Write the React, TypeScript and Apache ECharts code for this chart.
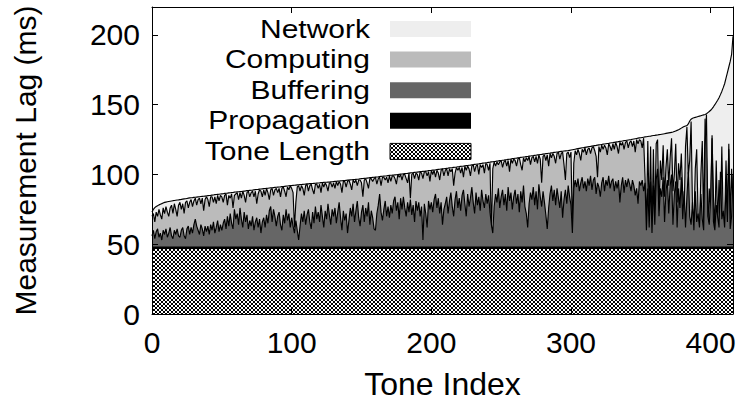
import React, { useEffect, useRef } from "react";
import * as echarts from "echarts";

// ---- data ----
const seriesNames = ["Network", "Computing", "Buffering", "Propagation", "Tone Length"];
const seriesColors = ["#eeeeee", "#bbbbbb", "#666666", "#000000", "hatch"];
const xTicks = [0, 100, 200, 300, 400];
const yTicks = [0, 50, 100, 150, 200];
const toneLength = 47; // ms
const propagationTop = 48; // tone length + propagation (ms)

// top of the stack (total lag, sorted)
const totalLag = [
  73.0, 75.0, 76.2, 77.0, 77.6, 78.2, 78.7, 79.1, 79.6, 80.0,
  80.2, 80.4, 80.6, 80.8, 81.0, 81.2, 81.3, 81.5, 81.7, 81.8,
  82.0, 82.1, 82.3, 82.5, 82.6, 82.8, 83.0, 83.2, 83.3, 83.4,
  83.6, 83.7, 83.8, 83.9, 84.0, 84.2, 84.3, 84.4, 84.5, 84.6,
  84.8, 84.9, 85.0, 85.2, 85.3, 85.5, 85.6, 85.7, 85.8, 86.0,
  86.1, 86.2, 86.4, 86.5, 86.6, 86.8, 86.9, 87.0, 87.1, 87.3,
  87.4, 87.5, 87.6, 87.7, 87.8, 88.0, 88.1, 88.2, 88.4, 88.5,
  88.6, 88.7, 88.8, 89.0, 89.1, 89.2, 89.3, 89.5, 89.6, 89.7,
  89.8, 89.9, 90.0, 90.1, 90.3, 90.4, 90.5, 90.6, 90.7, 90.8,
  90.9, 91.0, 91.1, 91.3, 91.4, 91.5, 91.6, 91.7, 91.9, 92.0,
  92.1, 92.2, 92.3, 92.4, 92.5, 92.6, 92.7, 92.8, 92.9, 93.0,
  93.1, 93.2, 93.3, 93.4, 93.5, 93.5, 93.6, 93.7, 93.8, 93.9,
  94.0, 94.1, 94.2, 94.3, 94.4, 94.4, 94.5, 94.6, 94.7, 94.8,
  94.9, 95.0, 95.1, 95.2, 95.3, 95.4, 95.5, 95.6, 95.7, 95.8,
  95.9, 96.0, 96.1, 96.2, 96.3, 96.4, 96.5, 96.6, 96.7, 96.9,
  97.0, 97.1, 97.2, 97.3, 97.4, 97.5, 97.7, 97.8, 97.9, 98.0,
  98.1, 98.2, 98.3, 98.5, 98.6, 98.7, 98.8, 98.9, 99.0, 99.2,
  99.3, 99.4, 99.5, 99.6, 99.7, 99.8, 100.0, 100.1, 100.2, 100.3,
  100.5, 100.6, 100.7, 100.8, 101.0, 101.1, 101.2, 101.3, 101.5, 101.6,
  101.7, 101.8, 102.0, 102.1, 102.2, 102.3, 102.4, 102.5, 102.7, 102.8,
  102.9, 103.1, 103.2, 103.3, 103.5, 103.6, 103.7, 103.9, 104.0, 104.1,
  104.3, 104.4, 104.5, 104.7, 104.8, 104.9, 105.1, 105.2, 105.3, 105.5,
  105.6, 105.8, 105.9, 106.0, 106.2, 106.3, 106.4, 106.6, 106.7, 106.9,
  107.0, 107.2, 107.3, 107.5, 107.6, 107.8, 107.9, 108.1, 108.2, 108.4,
  108.5, 108.7, 108.8, 109.0, 109.1, 109.3, 109.4, 109.6, 109.7, 109.9,
  110.0, 110.2, 110.3, 110.5, 110.6, 110.8, 110.9, 111.1, 111.3, 111.4,
  111.6, 111.7, 111.9, 112.0, 112.2, 112.3, 112.5, 112.6, 112.8, 112.9,
  113.1, 113.2, 113.4, 113.5, 113.7, 113.8, 114.0, 114.1, 114.3, 114.4,
  114.6, 114.7, 114.9, 115.0, 115.2, 115.3, 115.5, 115.6, 115.8, 115.9,
  116.1, 116.2, 116.4, 116.5, 116.6, 116.8, 116.9, 117.0, 117.1, 117.3,
  117.5, 117.7, 117.9, 118.1, 118.3, 118.5, 118.7, 118.9, 119.1, 119.2,
  119.4, 119.6, 119.8, 120.0, 120.1, 120.3, 120.5, 120.7, 120.8, 121.0,
  121.2, 121.3, 121.5, 121.7, 121.8, 122.0, 122.2, 122.3, 122.5, 122.7,
  122.8, 123.0, 123.2, 123.3, 123.5, 123.7, 123.8, 124.0, 124.2, 124.3,
  124.5, 124.7, 124.9, 125.0, 125.2, 125.4, 125.6, 125.8, 126.0, 126.2,
  126.3, 126.5, 126.7, 126.9, 127.0, 127.2, 127.4, 127.5, 127.7, 127.9,
  128.0, 128.2, 128.3, 128.5, 128.6, 128.8, 129.0, 129.2, 129.4, 129.6,
  129.8, 130.0, 130.2, 130.4, 130.8, 131.2, 131.6, 132.0, 132.6, 133.2,
  133.8, 134.3, 134.7, 135.0, 136.2, 138.3, 139.6, 140.3, 140.6, 140.9,
  141.2, 141.5, 141.8, 142.1, 142.4, 142.7, 143.0, 143.5, 144.3, 145.1,
  146.0, 147.2, 148.5, 150.0, 151.6, 153.2, 155.0, 157.2, 159.5, 162.2,
  165.0, 169.0, 173.0, 177.0, 181.0, 186.0, 199.0,
];

// top of the Computing layer
const computingTop = [
  70, 72, 66, 73, 70, 75, 71, 68, 76, 72,
  77, 73, 70, 76, 78, 72, 79, 75, 70, 78,
  80, 75, 79, 72, 80, 81, 76, 80, 82, 77,
  81, 83, 78, 82, 83, 79, 83, 74, 82, 84,
  82, 77, 84, 84, 80, 84, 79, 85, 81, 85,
  84, 80, 85, 86, 78, 85, 83, 86, 76, 85,
  86, 87, 82, 87, 83, 88, 85, 80, 87, 88,
  84, 87, 88, 84, 88, 79, 86, 89, 88, 84,
  89, 85, 90, 87, 82, 89, 90, 85, 89, 90,
  87, 90, 84, 90, 91, 88, 84, 91, 89, 92,
  90, 87, 62, 80, 91, 92, 88, 92, 90, 85,
  92, 93, 88, 92, 93, 89, 86, 93, 93, 90,
  93, 87, 94, 91, 94, 92, 88, 94, 94, 91,
  94, 90, 95, 92, 95, 93, 87, 95, 95, 91,
  95, 96, 93, 89, 96, 94, 96, 92, 96, 96,
  94, 84, 96, 97, 94, 90, 97, 97, 95, 97,
  98, 93, 97, 98, 92, 98, 98, 96, 98, 94,
  99, 95, 99, 99, 97, 93, 100, 98, 100, 96,
  100, 100, 97, 94, 101, 83, 100, 101, 97, 101,
  100, 96, 102, 101, 97, 102, 102, 99, 102, 95,
  103, 100, 103, 98, 103, 101, 96, 103, 104, 99,
  103, 104, 99, 104, 102, 104, 92, 101, 105, 103,
  105, 101, 105, 98, 106, 103, 106, 104, 99, 106,
  107, 102, 106, 107, 100, 107, 105, 107, 101, 108,
  107, 103, 108, 58, 104, 109, 106, 109, 107, 109,
  110, 105, 109, 110, 106, 110, 102, 111, 108, 111,
  110, 106, 111, 112, 107, 103, 112, 109, 112, 110,
  113, 107, 112, 113, 109, 113, 108, 114, 111, 94,
  113, 114, 110, 114, 106, 115, 112, 115, 113, 108,
  115, 116, 111, 115, 116, 107, 96, 115, 116, 112,
  116, 58, 108, 117, 114, 118, 115, 110, 118, 116,
  119, 114, 118, 119, 115, 119, 120, 117, 113, 98,
  120, 116, 121, 118, 121, 119, 114, 122, 120, 117,
  122, 118, 123, 120, 115, 123, 121, 123, 118, 123,
  124, 119, 123, 124, 120, 124, 116, 125, 122, 125,
  124, 119, 126, 98, 62, 124, 70, 120, 58, 118,
  66, 122, 125, 74, 110, 96, 121, 84, 105, 118,
  92, 112, 126, 88, 100, 122, 80, 108, 96, 115,
  86, 72, 120, 134, 100, 110, 138, 76, 66, 104,
  118, 70, 60, 100, 124, 66, 140, 112, 62, 90,
  72, 128, 84, 62, 110, 64, 96, 70, 120, 66,
  64, 110, 70, 122, 68, 104, 76,
];

// top of the Buffering layer
const bufferingTop = [
  56, 60, 54, 59, 61, 55, 58, 53, 60, 57,
  61, 55, 58, 62, 56, 54, 60, 57, 61, 56,
  55, 60, 62, 56, 54, 61, 63, 57, 62, 58,
  64, 68, 63, 60, 57, 64, 61, 56, 63, 59,
  63, 57, 64, 60, 66, 58, 62, 67, 59, 64,
  60, 65, 68, 61, 70, 63, 72, 65, 61, 75,
  68, 72, 64, 76, 68, 62, 73, 66, 71, 61,
  67, 63, 70, 60, 66, 69, 62, 68, 58, 66,
  69, 62, 71, 65, 74, 77, 66, 75, 70, 63,
  70, 73, 64, 60, 71, 65, 75, 67, 72, 62,
  69, 63, 58, 67, 60, 53, 63, 72, 66, 74,
  64, 71, 75, 66, 61, 73, 65, 77, 68, 73,
  66, 78, 70, 62, 74, 68, 79, 71, 64, 75,
  70, 76, 65, 73, 80, 69, 60, 74, 67, 72,
  58, 67, 76, 70, 79, 66, 74, 81, 69, 63,
  73, 78, 66, 76, 70, 80, 64, 74, 69, 61,
  60, 72, 78, 86, 73, 67, 75, 81, 70, 77,
  69, 78, 72, 81, 84, 74, 80, 68, 83, 75,
  84, 76, 70, 80, 73, 82, 71, 78, 66, 81,
  74, 80, 70, 77, 53, 79, 72, 62, 81, 75,
  80, 73, 82, 86, 76, 83, 72, 80, 64, 75,
  79, 84, 72, 81, 87, 77, 70, 82, 88, 76,
  83, 74, 85, 89, 79, 70, 86, 77, 83, 91,
  80, 72, 87, 78, 84, 74, 89, 81, 76, 86,
  79, 85, 73, 64, 58, 77, 86, 80, 90, 76,
  84, 89, 78, 86, 74, 91, 81, 87, 75, 84,
  89, 79, 86, 73, 88, 80, 92, 77, 72, 62,
  79, 87, 82, 91, 78, 88, 75, 93, 84, 77,
  88, 80, 71, 61, 76, 86, 92, 81, 89, 78,
  90, 83, 76, 88, 69, 82, 89, 79, 92, 84,
  78, 58, 90, 96, 91, 97, 88, 94, 98, 90,
  95, 88, 97, 92, 99, 89, 96, 98, 86, 94,
  91, 84, 94, 98, 88, 96, 92, 99, 90, 95,
  97, 88, 95, 90, 96, 80, 92, 98, 87, 96,
  91, 97, 93, 88, 96, 92, 85, 90, 79, 95,
  92, 96, 88, 94, 60, 90, 62, 95, 58, 92,
  64, 96, 104, 70, 90, 84, 98, 66, 88, 96,
  72, 92, 100, 64, 86, 95, 62, 90, 76, 98,
  68, 88, 62, 84, 102, 70, 64, 80, 60, 88,
  66, 72, 62, 86, 68, 60, 120, 143, 70, 64,
  84, 126, 66, 60, 78, 70, 62, 102, 68, 74,
  62, 92, 66, 118, 61, 70, 100,
];

const FONT = '"Liberation Sans", Arial, Helvetica, sans-serif';

const hatchSvg =
  "<svg xmlns='http://www.w3.org/2000/svg' width='4' height='4' shape-rendering='crispEdges'>" +
  "<rect width='4' height='4' fill='#ffffff'/>" +
  "<rect x='0' y='0' width='1' height='1' fill='#000'/>" +
  "<rect x='3' y='0' width='1' height='1' fill='#000'/>" +
  "<rect x='1' y='1' width='2' height='2' fill='#000'/>" +
  "<rect x='0' y='3' width='1' height='1' fill='#000'/>" +
  "<rect x='3' y='3' width='1' height='1' fill='#000'/>" +
  "</svg>";

export default function App() {
  const ref = useRef<HTMLDivElement>(null);

  useEffect(() => {
    if (!ref.current) return;
    const chart = echarts.init(ref.current, null, { renderer: "svg" });
    const hatch: any = {
      image: "data:image/svg+xml;charset=utf-8," + encodeURIComponent(hatchSvg),
      repeat: "repeat",
      imageWidth: 4,
      imageHeight: 4,
    };
    const fillOf = (c: string) => (c === "hatch" ? hatch : c);

    const layerData = [
      totalLag,
      computingTop,
      bufferingTop,
      totalLag.map(() => propagationTop),
      totalLag.map(() => toneLength),
    ];

    const series = seriesNames.map((name, k) => ({
      type: "line",
      name,
      data: layerData[k].map((v, i) => [i, v]),
      showSymbol: false,
      symbol: "none",
      silent: true,
      z: 2 + k,
      lineStyle: { color: "#000", width: 1.15 },
      areaStyle: { color: fillOf(seriesColors[k]), opacity: 1 },
    }));

    const rowY0 = 29;
    const rowGap = 30.6;
    const legendGraphics: any[] = [];
    seriesNames.forEach((name, k) => {
      const cy = rowY0 + k * rowGap;
      legendGraphics.push({
        type: "rect",
        shape: { x: 390, y: cy - 8, width: 81, height: 16 },
        style: {
          fill: fillOf(seriesColors[k]),
          stroke: seriesColors[k] === "hatch" ? "#000" : null,
          lineWidth: 1,
        },
        z: 50,
      });
      legendGraphics.push({
        type: "text",
        x: 370,
        y: cy,
        scaleX: 1.2,
        style: {
          text: name,
          font: `25px ${FONT}`,
          fill: "#000",
          textAlign: "right",
          textVerticalAlign: "middle",
        },
        z: 50,
      });
    });

    const axisCommon = {
      axisLine: { show: true, onZero: false, lineStyle: { color: "#000", width: 1 } },
      axisTick: { show: true, inside: true, length: 6, lineStyle: { color: "#000", width: 1 } },
      splitLine: { show: false },
      z: 10,
    };

    chart.setOption({
      animation: false,
      backgroundColor: "#fff",
      grid: {
        left: 152,
        right: 8,
        top: 7,
        bottom: 93,
        containLabel: false,
        outerBoundsMode: "none",
      },
      xAxis: [
        {
          type: "value",
          min: 0,
          max: 416,
          interval: 100,
          position: "bottom",
          ...axisCommon,
          axisLabel: {
            color: "#000",
            fontSize: 30,
            fontFamily: FONT,
            margin: 13,
            formatter: (v: number) => (xTicks.includes(v) ? String(v) : ""),
          },
          name: "Tone Index",
          nameLocation: "middle",
          nameGap: 54,
          nameTextStyle: { color: "#000", fontSize: 32, fontFamily: FONT },
        },
        {
          type: "value",
          min: 0,
          max: 416,
          interval: 100,
          position: "top",
          ...axisCommon,
          axisLabel: { show: false },
        },
      ],
      yAxis: [
        {
          type: "value",
          min: 0,
          max: 220,
          interval: 50,
          position: "left",
          ...axisCommon,
          axisLabel: {
            color: "#000",
            fontSize: 30,
            fontFamily: FONT,
            margin: 12,
            formatter: (v: number) => (yTicks.includes(v) ? String(v) : ""),
          },
          name: "Measurement Lag (ms)",
          nameLocation: "middle",
          nameGap: 112,
          nameTextStyle: { color: "#000", fontSize: 30, fontFamily: FONT },
        },
        {
          type: "value",
          min: 0,
          max: 220,
          interval: 50,
          position: "right",
          ...axisCommon,
          axisLabel: { show: false },
        },
      ],
      series,
      graphic: legendGraphics,
    });

    return () => chart.dispose();
  }, []);

  return (
    <div
      ref={ref}
      style={{ position: "absolute", left: 0, top: 0, width: 741, height: 407 }}
    />
  );
}
